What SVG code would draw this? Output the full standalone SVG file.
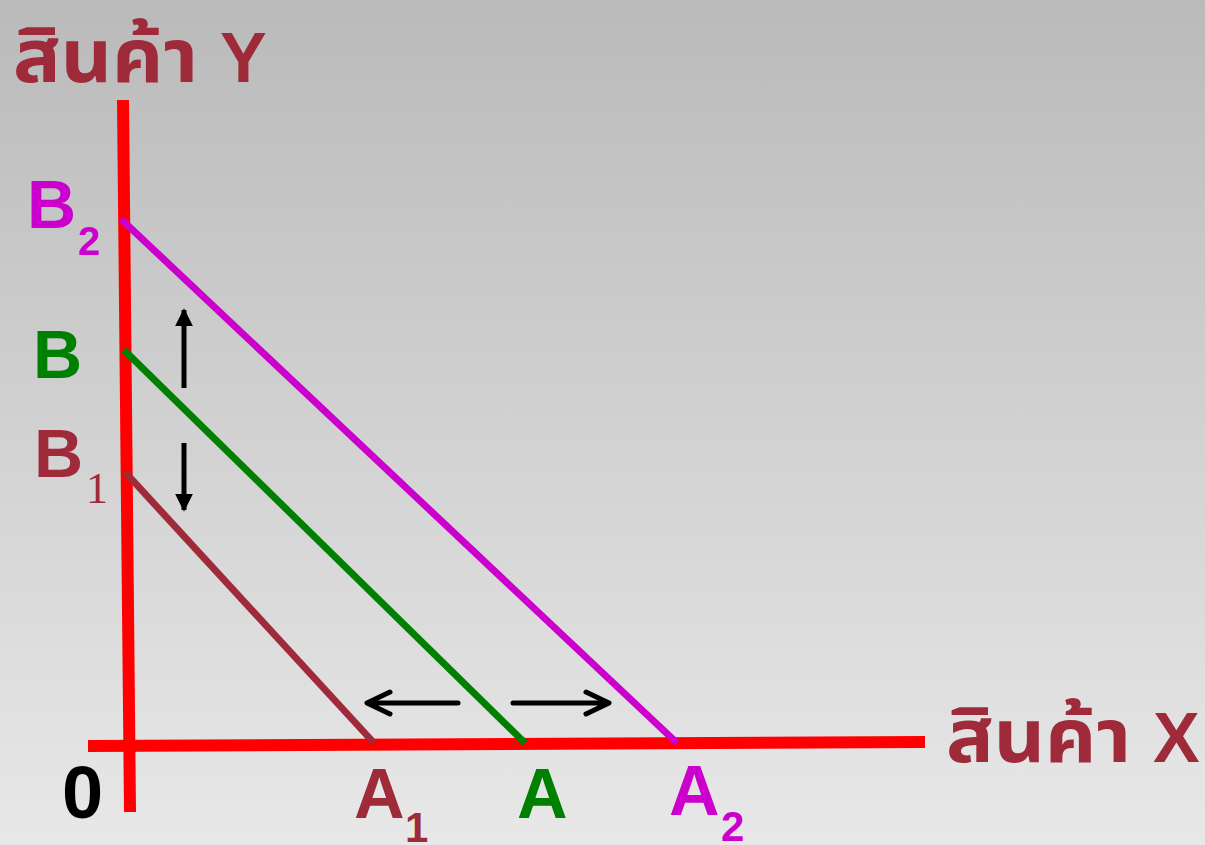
<svg xmlns="http://www.w3.org/2000/svg" width="1205" height="845" viewBox="0 0 1205 845">
<defs>
<linearGradient id="bg" x1="0" y1="0" x2="0" y2="1">
<stop offset="0" stop-color="#bababa"/>
<stop offset="1" stop-color="#e8e8e8"/>
</linearGradient>
<marker id="tri" viewBox="0 0 10 10" refX="9" refY="5" markerWidth="3.6" markerHeight="3.6" orient="auto" markerUnits="strokeWidth">
<path d="M0,0 L10,5 L0,10 Z" fill="#000"/>
</marker>
<style>
.lbl{font-family:"Liberation Sans",Arial,sans-serif;font-weight:bold}
.thai{font-family:"Noto Sans Thai","Noto Sans","DejaVu Sans",sans-serif;font-weight:bold;fill:#9e2a3a}
.brown{fill:#9e2a3a}
.green{fill:#008000}
.mag{fill:#cc00cc}
.ax{stroke:#ff0000;stroke-width:12;fill:none}
.chev{stroke:#000;stroke-width:5;fill:none;stroke-linecap:round;stroke-linejoin:round}
</style>
</defs>
<rect width="1205" height="845" fill="url(#bg)"/>
<g id="axes">
<line class="ax" x1="123" y1="100" x2="130" y2="812"/>
<line class="ax" x1="88" y1="746" x2="925" y2="742"/>
</g>
<g id="connectors">
<line x1="121" y1="219" x2="677" y2="743" stroke="#cc00cc" stroke-width="7"/>
<line x1="124" y1="350" x2="525" y2="743" stroke="#008000" stroke-width="7"/>
<line x1="125" y1="472" x2="374" y2="743" stroke="#9e2a3a" stroke-width="7"/>
<line x1="184" y1="388" x2="184" y2="310" stroke="#000" stroke-width="5" marker-end="url(#tri)"/>
<line x1="184" y1="443" x2="184" y2="510" stroke="#000" stroke-width="5" marker-end="url(#tri)"/>
<path class="chev" d="M458,703 H368 M390,692 L367,703 L390,714"/>
<path class="chev" d="M513,703 H607 M586,692 L609,703 L586,714"/>
</g>
<g id="label-y"><text class="thai" x="13" y="82" font-size="74" textLength="185" lengthAdjust="spacingAndGlyphs">สินค้า</text><text class="lbl brown" x="220" y="82" font-size="70">Y</text></g>
<g id="label-x"><text class="thai" x="946" y="762" font-size="74" textLength="185" lengthAdjust="spacingAndGlyphs">สินค้า</text><text class="lbl brown" x="1153" y="762" font-size="70">X</text></g>
<g id="label-b2"><text class="lbl mag" x="27" y="228" font-size="68">B</text><text class="lbl mag" x="78" y="255" font-size="40">2</text></g>
<g id="label-b"><text class="lbl green" x="33" y="378" font-size="68">B</text></g>
<g id="label-b1"><text class="lbl brown" x="34" y="477" font-size="68">B</text><text class="brown" x="86" y="503" font-size="44" font-family="Liberation Serif,serif">1</text></g>
<g id="label-0"><text class="lbl" x="62" y="818" font-size="74">0</text></g>
<g id="label-a1"><text class="lbl brown" x="354" y="818" font-size="70">A</text><text class="lbl brown" x="405" y="842" font-size="42">1</text></g>
<g id="label-a"><text class="lbl green" x="517" y="818" font-size="70">A</text></g>
<g id="label-a2"><text class="lbl mag" x="669" y="815" font-size="70">A</text><text class="lbl mag" x="721" y="841" font-size="42">2</text></g>
</svg>
